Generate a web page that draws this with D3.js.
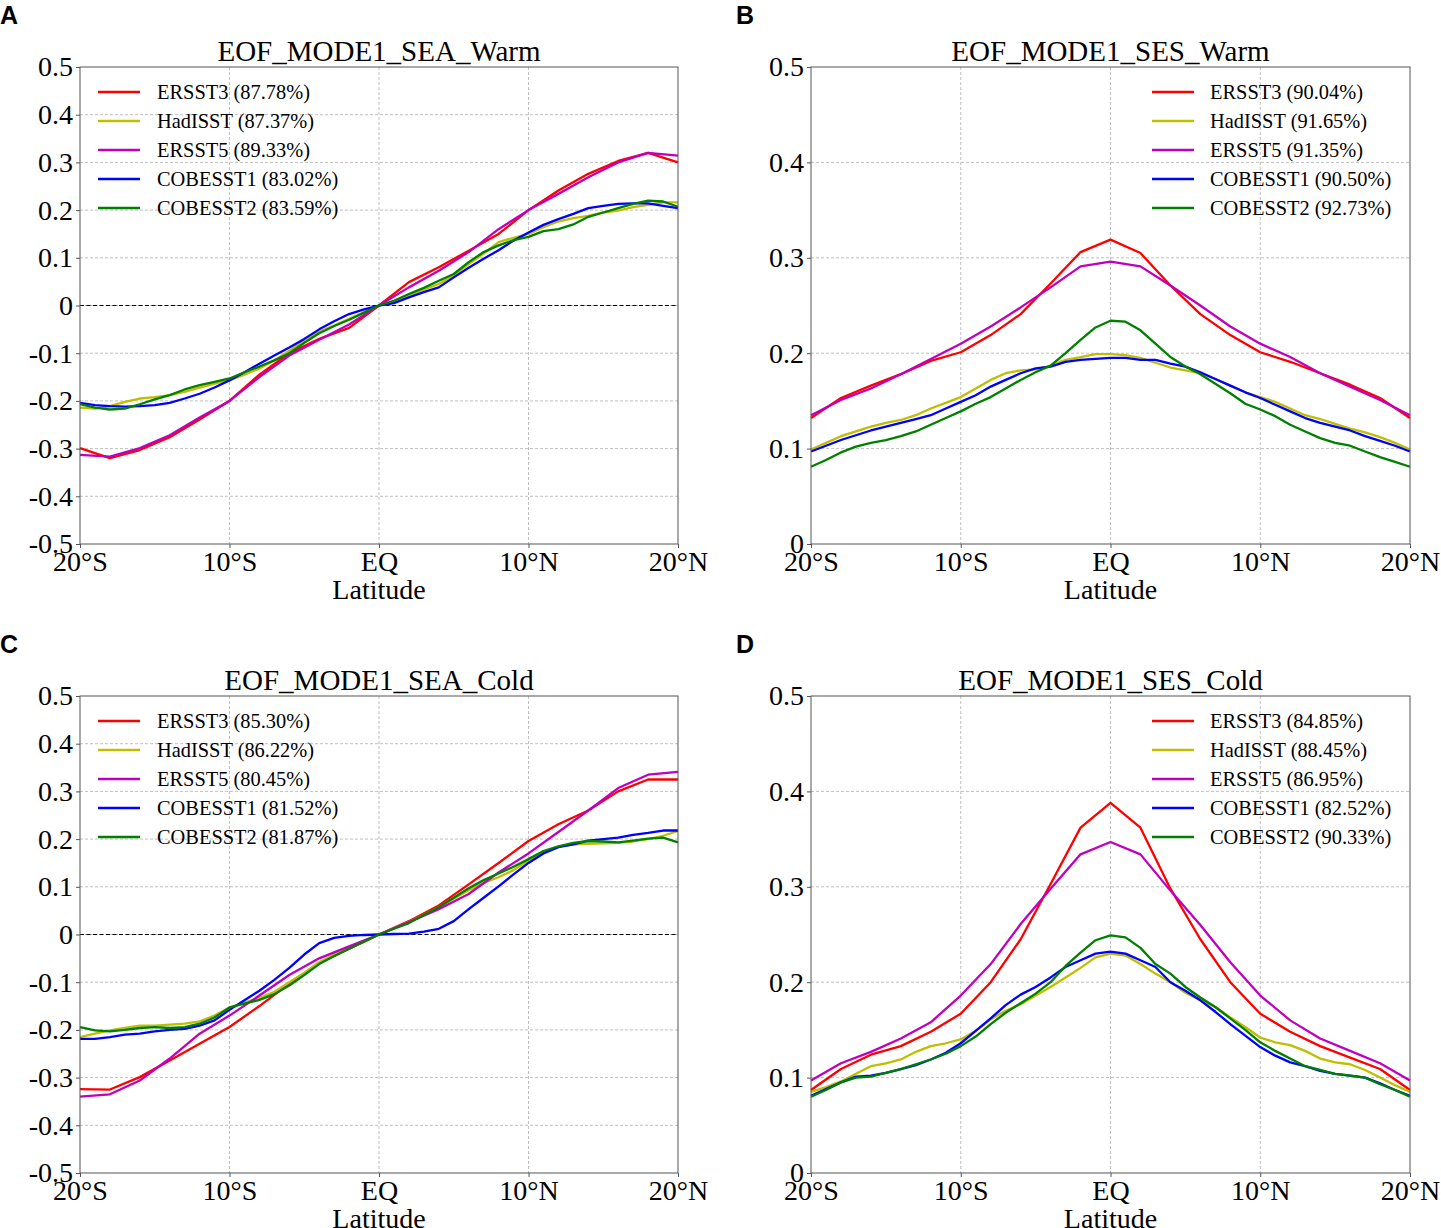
<!DOCTYPE html>
<html>
<head>
<meta charset="utf-8">
<script src="https://cdn.jsdelivr.net/npm/d3@7"></script>
<style>
  body { margin: 0; background: #fff; }
  svg { display: block; }
</style>
</head>
<body>
<svg id="chart" width="1441" height="1228"></svg>
<script>
// latitude grids: ERSST products on 2 degree, the others on 1 degree
const lat2 = [-20, -18, -16, -14, -12, -10, -8, -6, -4, -2, 0, 2, 4, 6, 8, 10, 12, 14, 16, 18, 20];
const lat1 = d3.range(-20, 21, 1);

const xTicks = [-20, -10, 0, 10, 20];
const xTickLabels = ["20°S", "10°S", "EQ", "10°N", "20°N"];

const datasets = ["ERSST3", "HadISST", "ERSST5", "COBESST1", "COBESST2"];
const colors = ["#ff0000", "#bfbf00", "#bf00bf", "#0000ff", "#008000"];

// A: SEA warm
const A_ERSST3 = [-0.299, -0.320, -0.303, -0.276, -0.239, -0.200, -0.145, -0.100, -0.070, -0.047, 0, 0.049, 0.080, 0.115, 0.150, 0.200, 0.241, 0.276, 0.303, 0.320, 0.300];
const A_ERSST5 = [-0.313, -0.317, -0.299, -0.272, -0.235, -0.200, -0.150, -0.105, -0.072, -0.040, 0, 0.038, 0.073, 0.112, 0.160, 0.200, 0.234, 0.269, 0.300, 0.320, 0.314];
const A_HadISST = [-0.214, -0.216, -0.211, -0.202, -0.195, -0.192, -0.188, -0.181, -0.172, -0.164, -0.157,
  -0.145, -0.132, -0.115, -0.095, -0.072, -0.055, -0.042, -0.028, -0.014, 0,
  0.009, 0.021, 0.033, 0.045, 0.063, 0.087, 0.109, 0.133, 0.142, 0.150, 0.164, 0.176, 0.183, 0.188, 0.195, 0.199, 0.206, 0.211, 0.216, 0.216];
const A_COBE1 = [-0.204, -0.209, -0.211, -0.212, -0.211, -0.209, -0.204, -0.195, -0.185, -0.172, -0.157,
  -0.140, -0.122, -0.105, -0.088, -0.070, -0.050, -0.033, -0.018, -0.008, 0,
  0.005, 0.017, 0.028, 0.038, 0.059, 0.079, 0.098, 0.116, 0.136, 0.153, 0.169, 0.181, 0.192, 0.204, 0.209, 0.213, 0.214, 0.214, 0.209, 0.204];
const A_COBE2 = [-0.207, -0.214, -0.218, -0.216, -0.207, -0.197, -0.188, -0.176, -0.167, -0.160, -0.153,
  -0.140, -0.128, -0.115, -0.100, -0.078, -0.058, -0.043, -0.030, -0.015, 0,
  0.010, 0.024, 0.037, 0.052, 0.066, 0.091, 0.112, 0.126, 0.137, 0.144, 0.156, 0.160, 0.170, 0.186, 0.195, 0.204, 0.213, 0.220, 0.218, 0.207];

// B: SES warm
const B_ERSST3 = [0.132, 0.153, 0.166, 0.178, 0.192, 0.201, 0.219, 0.241, 0.273, 0.306, 0.319, 0.305, 0.271, 0.241, 0.219, 0.201, 0.191, 0.179, 0.167, 0.153, 0.132];
const B_ERSST5 = [0.135, 0.151, 0.163, 0.178, 0.194, 0.210, 0.228, 0.248, 0.269, 0.291, 0.296, 0.291, 0.271, 0.250, 0.228, 0.210, 0.196, 0.179, 0.165, 0.151, 0.135];
const B_HadISST = [0.099, 0.106, 0.113, 0.118, 0.123, 0.127, 0.130, 0.135, 0.142, 0.148, 0.154, 0.163, 0.172, 0.179, 0.182, 0.183, 0.187, 0.193, 0.196, 0.199, 0.199,
  0.198, 0.195, 0.190, 0.185, 0.182, 0.179, 0.173, 0.166, 0.159, 0.154, 0.149, 0.142, 0.135, 0.131, 0.126, 0.121, 0.117, 0.112, 0.106, 0.099];
const B_COBE1 = [0.097, 0.103, 0.109, 0.114, 0.119, 0.123, 0.127, 0.131, 0.135, 0.142, 0.149, 0.156, 0.165, 0.172, 0.179, 0.184, 0.186, 0.191, 0.193, 0.194, 0.195,
  0.195, 0.193, 0.193, 0.189, 0.186, 0.180, 0.173, 0.166, 0.159, 0.153, 0.146, 0.139, 0.132, 0.127, 0.123, 0.119, 0.113, 0.108, 0.103, 0.097];
const B_COBE2 = [0.081, 0.088, 0.096, 0.102, 0.106, 0.109, 0.113, 0.118, 0.125, 0.132, 0.139, 0.147, 0.154, 0.163, 0.172, 0.180, 0.187, 0.200, 0.214, 0.227, 0.234,
  0.233, 0.224, 0.210, 0.196, 0.186, 0.178, 0.168, 0.158, 0.147, 0.141, 0.134, 0.125, 0.118, 0.111, 0.106, 0.103, 0.097, 0.091, 0.086, 0.081];

// C: SEA cold
const C_ERSST3 = [-0.324, -0.325, -0.299, -0.264, -0.229, -0.194, -0.150, -0.103, -0.060, -0.030, 0, 0.028, 0.061, 0.105, 0.150, 0.196, 0.231, 0.260, 0.300, 0.325, 0.325];
const C_ERSST5 = [-0.340, -0.335, -0.306, -0.260, -0.208, -0.170, -0.128, -0.085, -0.050, -0.025, 0, 0.026, 0.053, 0.085, 0.130, 0.170, 0.215, 0.260, 0.307, 0.335, 0.341];
const C_HadISST = [-0.215, -0.208, -0.201, -0.196, -0.191, -0.191, -0.189, -0.187, -0.182, -0.170, -0.153,
  -0.143, -0.133, -0.120, -0.100, -0.080, -0.058, -0.042, -0.028, -0.014, 0,
  0.013, 0.026, 0.041, 0.057, 0.075, 0.093, 0.108, 0.120, 0.135, 0.155, 0.172, 0.184, 0.189, 0.190, 0.191, 0.192, 0.195, 0.200, 0.207, 0.217];
const C_COBE1 = [-0.219, -0.219, -0.215, -0.210, -0.208, -0.203, -0.200, -0.198, -0.191, -0.180, -0.158,
  -0.138, -0.118, -0.095, -0.070, -0.042, -0.018, -0.007, -0.003, -0.001, 0,
  0.001, 0.002, 0.006, 0.012, 0.028, 0.053, 0.077, 0.101, 0.126, 0.150, 0.170, 0.183, 0.189, 0.197, 0.200, 0.203, 0.209, 0.213, 0.218, 0.218];
const C_COBE2 = [-0.194, -0.201, -0.203, -0.200, -0.196, -0.194, -0.196, -0.194, -0.187, -0.174, -0.153,
  -0.145, -0.137, -0.125, -0.107, -0.085, -0.062, -0.045, -0.030, -0.015, 0,
  0.012, 0.024, 0.041, 0.057, 0.077, 0.097, 0.114, 0.128, 0.142, 0.158, 0.175, 0.185, 0.192, 0.196, 0.195, 0.193, 0.197, 0.201, 0.203, 0.193];

// D: SES cold
const D_ERSST3 = [0.087, 0.109, 0.124, 0.133, 0.148, 0.167, 0.200, 0.245, 0.303, 0.362, 0.388, 0.362, 0.298, 0.245, 0.200, 0.167, 0.148, 0.133, 0.121, 0.109, 0.087];
const D_ERSST5 = [0.097, 0.115, 0.127, 0.141, 0.158, 0.186, 0.219, 0.261, 0.298, 0.334, 0.347, 0.334, 0.296, 0.260, 0.221, 0.186, 0.160, 0.141, 0.128, 0.115, 0.097];
const D_HadISST = [0.085, 0.090, 0.096, 0.104, 0.112, 0.115, 0.119, 0.127, 0.133, 0.136, 0.140, 0.149, 0.161, 0.170, 0.177, 0.186, 0.195, 0.205, 0.215, 0.226, 0.230,
  0.228, 0.219, 0.209, 0.200, 0.189, 0.181, 0.174, 0.163, 0.153, 0.142, 0.137, 0.134, 0.128, 0.120, 0.116, 0.114, 0.108, 0.100, 0.092, 0.085];
const D_COBE1 = [0.081, 0.088, 0.095, 0.101, 0.102, 0.105, 0.109, 0.113, 0.119, 0.126, 0.136, 0.149, 0.162, 0.176, 0.187, 0.195, 0.205, 0.216, 0.223, 0.230, 0.232,
  0.230, 0.223, 0.216, 0.200, 0.191, 0.181, 0.169, 0.156, 0.144, 0.132, 0.123, 0.116, 0.112, 0.107, 0.104, 0.102, 0.100, 0.094, 0.087, 0.081];
const D_COBE2 = [0.080, 0.087, 0.095, 0.100, 0.101, 0.105, 0.109, 0.114, 0.119, 0.125, 0.133, 0.143, 0.156, 0.168, 0.178, 0.188, 0.200, 0.217, 0.231, 0.244, 0.249,
  0.247, 0.236, 0.219, 0.209, 0.195, 0.184, 0.174, 0.162, 0.150, 0.137, 0.128, 0.120, 0.112, 0.108, 0.104, 0.102, 0.100, 0.093, 0.087, 0.080];

const pctA = ["87.78", "87.37", "89.33", "83.02", "83.59"];
const pctB = ["90.04", "91.65", "91.35", "90.50", "92.73"];
const pctC = ["85.30", "86.22", "80.45", "81.52", "81.87"];
const pctD = ["84.85", "88.45", "86.95", "82.52", "90.33"];

const panels = [
  { letter: "A", title: "EOF_MODE1_SEA_Warm", yDomain: [-0.5, 0.5], zero: true, pct: pctA,
    series: [A_ERSST3, A_HadISST, A_ERSST5, A_COBE1, A_COBE2],
    box: { left: 80, right: 678, top: 67, bottom: 544 }, legLine: 98, legText: 157 },
  { letter: "B", title: "EOF_MODE1_SES_Warm", yDomain: [0, 0.5], zero: false, pct: pctB,
    series: [B_ERSST3, B_HadISST, B_ERSST5, B_COBE1, B_COBE2],
    box: { left: 811, right: 1410, top: 67, bottom: 544 }, legLine: 1152, legText: 1210 },
  { letter: "C", title: "EOF_MODE1_SEA_Cold", yDomain: [-0.5, 0.5], zero: true, pct: pctC,
    series: [C_ERSST3, C_HadISST, C_ERSST5, C_COBE1, C_COBE2],
    box: { left: 80, right: 678, top: 696, bottom: 1173 }, legLine: 98, legText: 157 },
  { letter: "D", title: "EOF_MODE1_SES_Cold", yDomain: [0, 0.5], zero: false, pct: pctD,
    series: [D_ERSST3, D_HadISST, D_ERSST5, D_COBE1, D_COBE2],
    box: { left: 811, right: 1410, top: 696, bottom: 1173 }, legLine: 1152, legText: 1210 }
];

const serif = '"Liberation Serif", "Times New Roman", serif';
const svg = d3.select("#chart");

panels.forEach(p => {
  const b = p.box;
  const x = d3.scaleLinear().domain([-20, 20]).range([b.left, b.right]);
  const y = d3.scaleLinear().domain(p.yDomain).range([b.bottom, b.top]);
  const yTicks = d3.range(p.yDomain[0] * 10, p.yDomain[1] * 10 + 1).map(d => d / 10);
  const g = svg.append("g");

  // grid
  g.append("g").selectAll("line").data(yTicks.slice(1, -1)).enter().append("line")
    .attr("x1", b.left).attr("x2", b.right)
    .attr("y1", d => y(d)).attr("y2", d => y(d))
    .attr("stroke", "#b0b0b0").attr("stroke-width", 0.8).attr("stroke-dasharray", "3,2");
  g.append("g").selectAll("line").data(xTicks.slice(1, -1)).enter().append("line")
    .attr("y1", b.top).attr("y2", b.bottom)
    .attr("x1", d => x(d)).attr("x2", d => x(d))
    .attr("stroke", "#b0b0b0").attr("stroke-width", 0.8).attr("stroke-dasharray", "3,2");

  if (p.zero) {
    g.append("line").attr("x1", b.left).attr("x2", b.right)
      .attr("y1", y(0)).attr("y2", y(0))
      .attr("stroke", "#000").attr("stroke-width", 1.2).attr("stroke-dasharray", "4,2.5");
  }

  // curves
  const line = d3.line().x(d => x(d[0])).y(d => y(d[1]));
  p.series.forEach((vals, i) => {
    const lats = vals.length === lat2.length ? lat2 : lat1;
    g.append("path")
      .datum(lats.map((l, k) => [l, vals[k]]))
      .attr("d", line)
      .attr("fill", "none")
      .attr("stroke", colors[i])
      .attr("stroke-width", 2.3)
      .attr("stroke-linejoin", "round");
  });

  // frame
  g.append("rect").attr("x", b.left).attr("y", b.top)
    .attr("width", b.right - b.left).attr("height", b.bottom - b.top)
    .attr("fill", "none").attr("stroke", "#555").attr("stroke-width", 1);

  // axes
  const yAxis = g.append("g").attr("transform", `translate(${b.left},0)`)
    .call(d3.axisLeft(y).tickValues(yTicks).tickFormat(d => String(+d.toFixed(1)))
      .tickSize(4).tickSizeOuter(0).tickPadding(3));
  const xAxis = g.append("g").attr("transform", `translate(0,${b.bottom})`)
    .call(d3.axisBottom(x).tickValues(xTicks).tickFormat((d, i) => xTickLabels[i])
      .tickSize(4).tickSizeOuter(0).tickPadding(3));
  [yAxis, xAxis].forEach(a => {
    a.select(".domain").remove();
    a.selectAll(".tick line").attr("stroke", "#555");
    a.selectAll(".tick text").attr("font-size", 28).attr("font-family", serif).attr("fill", "#000");
  });

  // labels
  g.append("text").attr("x", (b.left + b.right) / 2).attr("y", b.top - 6)
    .attr("text-anchor", "middle").attr("font-family", serif).attr("font-size", 29)
    .text(p.title);
  g.append("text").attr("x", (b.left + b.right) / 2).attr("y", b.bottom + 55)
    .attr("text-anchor", "middle").attr("font-family", serif).attr("font-size", 28)
    .text("Latitude");
  g.append("text").attr("x", b.left - 80 + (b.left > 400 ? 5 : 0)).attr("y", b.top - 43)
    .attr("font-family", '"Liberation Sans", Arial, sans-serif').attr("font-weight", "bold")
    .attr("font-size", 25).text(p.letter);

  // legend
  datasets.forEach((name, i) => {
    const ly = b.top + 25 + i * 29;
    g.append("line").attr("x1", p.legLine).attr("x2", p.legLine + 42)
      .attr("y1", ly).attr("y2", ly).attr("stroke", colors[i]).attr("stroke-width", 2.3);
    g.append("text").attr("x", p.legText).attr("y", ly + 7)
      .attr("font-family", serif).attr("font-size", 20.4)
      .text(`${name} (${p.pct[i]}%)`);
  });
});
</script>
</body>
</html>
